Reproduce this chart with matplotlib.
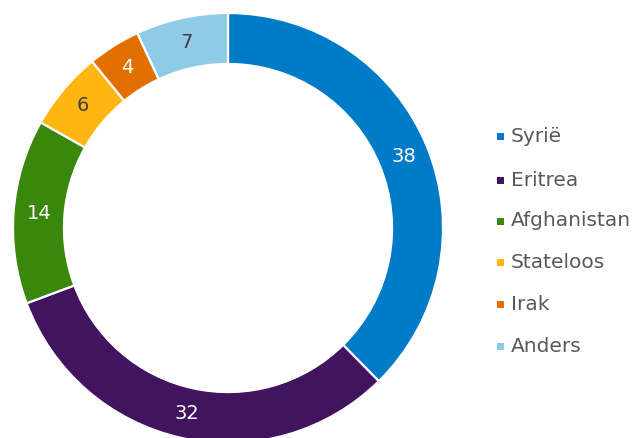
import matplotlib
matplotlib.use("Agg")
import matplotlib.pyplot as plt
from matplotlib.patches import Rectangle

plt.rcParams['font.family'] = ['DejaVu Sans']

categories = ["Syrië", "Eritrea", "Afghanistan", "Stateloos", "Irak", "Anders"]
values = [38, 32, 14, 6, 4, 7]
colors = ["#007BC7", "#42145F", "#39870C", "#FFB612", "#E17000", "#8FCAE7"]
label_colors = ["white", "white", "white", "#404040", "white", "#404040"]

W, H = 639, 438
fig = plt.figure(figsize=(W / 100, H / 100), dpi=100)
cx, cy, R = 228, 228, 215
ax = fig.add_axes([(cx - R) / W, (H - cy - R) / H, 2 * R / W, 2 * R / H])

inner = 0.763
wedges, texts = ax.pie(values, colors=colors, startangle=90, counterclock=False,
                       radius=1, labels=[str(v) for v in values],
                       labeldistance=(1 + inner) / 2,
                       wedgeprops=dict(width=1 - inner, edgecolor="white", linewidth=1.6),
                       textprops=dict(fontsize=14, ha="center", va="center"))
for t, c in zip(texts, label_colors):
    t.set_color(c)
ax.set_xlim(-1, 1)
ax.set_ylim(-1, 1)
ax.set_aspect("equal")
ax.axis("off")

# legend
ys = [136, 180, 221, 262, 304, 346]
for name, col, y in zip(categories, colors, ys):
    fig.patches.append(Rectangle(((497) / W, (H - y - 3.5) / H), 7 / W, 7 / H,
                                 transform=fig.transFigure, facecolor=col, edgecolor="none"))
    fig.text(511 / W, (H - y) / H, name, fontsize=14.5, color="#595959",
             ha="left", va="center")

fig.savefig("out.png", dpi=100)
